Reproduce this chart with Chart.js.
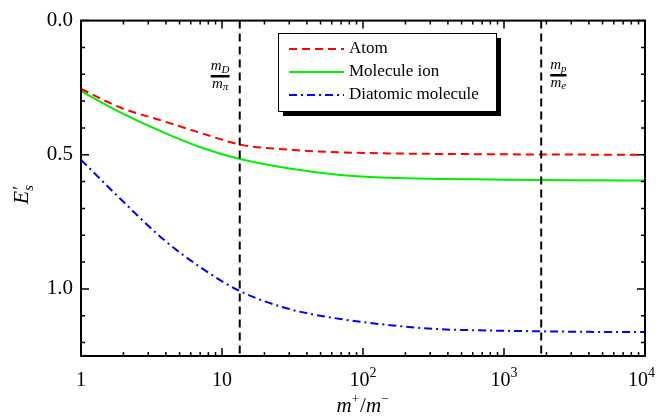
<!DOCTYPE html>
<html>
<head>
<meta charset="utf-8">
<script src="https://cdn.jsdelivr.net/npm/chart.js@4.4.1/dist/chart.umd.min.js"></script>
<style>
  html, body { margin: 0; padding: 0; background: #fff; }
  #wrap { width: 658px; height: 417px; }
</style>
</head>
<body>
<div id="wrap"><canvas id="c"></canvas></div>
<script>
// mass ratio m+/m- (log axis)
var ratios = [1, 1.9, 3.7, 7.1, 13.4, 30, 69, 155, 350, 800, 1800, 4000, 10000];
var atom = [0.255, 0.324, 0.372, 0.419, 0.462, 0.481, 0.491, 0.495, 0.497, 0.498, 0.499, 0.4995, 0.4997];
var molIon = [0.263, 0.342, 0.413, 0.473, 0.516, 0.551, 0.575, 0.586, 0.590, 0.592, 0.594, 0.595, 0.596];
var diatomic = [0.519, 0.664, 0.808, 0.921, 1.008, 1.075, 1.112, 1.135, 1.150, 1.155, 1.158, 1.160, 1.161];
var labels = ['Atom', 'Molecule ion', 'Diatomic molecule'];
var markers = [13.36, 1836]; // m_D/m_pi , m_p/m_e
var xDecades = [1, 10, 100, 1000, 10000];
var yMajor = [0, 0.5, 1.0];

var SERIF = '"Liberation Serif", "DejaVu Serif", serif';

function pts(vals) {
    var out = [];
    for (var i = 0; i < ratios.length; i++) out.push({x: ratios[i], y: vals[i]});
    return out;
}

function frac(ctx, x, num, numSub, den, denSub, yTop) {
    // small italic fraction like m_D / m_pi
    ctx.save();
    ctx.fillStyle = '#000';
    ctx.textBaseline = 'alphabetic';
    ctx.font = 'italic 15px ' + SERIF;
    var w1 = ctx.measureText(num).width;
    ctx.font = 'italic 11px ' + SERIF;
    var s1 = ctx.measureText(numSub).width;
    ctx.font = 'italic 15px ' + SERIF;
    var w2 = ctx.measureText(den).width;
    ctx.font = 'italic 11px ' + SERIF;
    var s2 = ctx.measureText(denSub).width;
    var wTop = w1 + s1, wBot = w2 + s2;
    var w = Math.max(wTop, wBot);
    var bx = x;
    ctx.font = 'italic 15px ' + SERIF;
    ctx.fillText(num, bx + (w - wTop) / 2, yTop + 9);
    ctx.font = 'italic 11px ' + SERIF;
    ctx.fillText(numSub, bx + (w - wTop) / 2 + w1, yTop + 12);
    ctx.fillRect(bx, yTop + 14, w, 2.5);
    ctx.font = 'italic 15px ' + SERIF;
    ctx.fillText(den, bx + (w - wBot) / 2, yTop + 27);
    ctx.font = 'italic 11px ' + SERIF;
    ctx.fillText(denSub, bx + (w - wBot) / 2 + w2, yTop + 29);
    ctx.restore();
}

var frame = {
    id: 'frame',
    afterDatasetsDraw: function (chart) {
        var ctx = chart.ctx, a = chart.chartArea;
        var xs = chart.scales.x, ys = chart.scales.y;
        ctx.save();
        // vertical marker lines
        ctx.strokeStyle = '#000';
        ctx.lineWidth = 2;
        ctx.setLineDash([8, 5]);
        markers.forEach(function (m) {
            var px = xs.getPixelForValue(m);
            ctx.beginPath();
            ctx.moveTo(px, a.top);
            ctx.lineTo(px, a.bottom);
            ctx.stroke();
        });
        ctx.setLineDash([]);

        // frame
        ctx.lineWidth = 2;
        ctx.strokeRect(a.left, a.top, a.right - a.left, a.bottom - a.top);

        // x ticks (inward, bottom and top)
        ctx.lineWidth = 1.5;
        for (var d = 0; d < xDecades.length; d++) {
            for (var k = 1; k <= 9; k++) {
                var v = xDecades[d] * k;
                if (v > 10000) break;
                var px = xs.getPixelForValue(v);
                var len = (k === 1) ? 8 : 4;
                ctx.beginPath();
                ctx.moveTo(px, a.bottom); ctx.lineTo(px, a.bottom - len);
                ctx.moveTo(px, a.top); ctx.lineTo(px, a.top + len);
                ctx.stroke();
            }
        }
        // y ticks (inward, left and right)
        for (var t = 0; t <= 12; t++) {
            var py = ys.getPixelForValue(t / 10);
            var l2 = (t % 5 === 0) ? 8 : 4;
            ctx.beginPath();
            ctx.moveTo(a.left, py); ctx.lineTo(a.left + l2, py);
            ctx.moveTo(a.right, py); ctx.lineTo(a.right - l2, py);
            ctx.stroke();
        }

        // x tick labels
        ctx.fillStyle = '#000';
        ctx.textBaseline = 'alphabetic';
        xDecades.forEach(function (v, i) {
            var px = xs.getPixelForValue(v);
            if (i < 2) {
                ctx.font = '20px ' + SERIF;
                ctx.textAlign = 'center';
                ctx.fillText(String(v), px, a.bottom + 30);
            } else {
                ctx.font = '20px ' + SERIF;
                var w = ctx.measureText('10').width;
                ctx.font = '14px ' + SERIF;
                var ws = ctx.measureText(String(i)).width;
                var x0 = px - (w + ws) / 2 + (i === 4 ? -ws / 2 : 0);
                ctx.textAlign = 'left';
                ctx.font = '20px ' + SERIF;
                ctx.fillText('10', x0, a.bottom + 30);
                ctx.font = '14px ' + SERIF;
                ctx.fillText(String(i), x0 + w, a.bottom + 21);
            }
        });

        // x title m+/m-
        ctx.textAlign = 'left';
        ctx.font = 'italic 21px ' + SERIF;
        var mw = ctx.measureText('m').width;
        ctx.font = '13px ' + SERIF;
        var pw = ctx.measureText('+').width;
        ctx.font = '21px ' + SERIF;
        var sw = ctx.measureText('/').width;
        var total = mw * 2 + pw * 2 + sw + 2;
        var cx = (a.left + a.right) / 2 - total / 2;
        var by = a.bottom + 56;
        ctx.font = 'italic 21px ' + SERIF; ctx.fillText('m', cx, by); cx += mw;
        ctx.font = '13px ' + SERIF; ctx.fillText('+', cx, by - 9); cx += pw + 1;
        ctx.font = '21px ' + SERIF; ctx.fillText('/', cx, by); cx += sw;
        ctx.font = 'italic 21px ' + SERIF; ctx.fillText('m', cx, by); cx += mw;
        ctx.font = '13px ' + SERIF; ctx.fillText('\u2212', cx, by - 9);

        // y title E's
        ctx.save();
        ctx.translate(28, (a.top + a.bottom) / 2 + 4);
        ctx.rotate(-Math.PI / 2);
        ctx.font = 'italic 22px ' + SERIF;
        var ew = ctx.measureText('E').width;
        ctx.textAlign = 'left';
        ctx.fillText('E', -12, 0);
        ctx.font = '18px ' + SERIF;
        ctx.fillText('\u2032', -12 + ew + 1, -2);
        ctx.font = 'italic 15px ' + SERIF;
        ctx.fillText('s', -12 + ew, 5);
        ctx.restore();

        // fraction labels
        frac(ctx, xs.getPixelForValue(markers[0]) - 29, 'm', 'D', 'm', '\u03c0', 61);
        frac(ctx, xs.getPixelForValue(markers[1]) + 9, 'm', 'p', 'm', 'e', 60);

        // legend box with shadow
        var lx = 278, ly = 33, lw = 218, lh = 78;
        ctx.fillStyle = '#000';
        ctx.fillRect(lx + 5, ly + 5, lw, lh);
        ctx.fillStyle = '#fff';
        ctx.fillRect(lx, ly, lw, lh);
        ctx.strokeStyle = '#000';
        ctx.lineWidth = 1;
        ctx.strokeRect(lx + 0.5, ly + 0.5, lw, lh);
        chart.data.datasets.forEach(function (ds, i) {
            var yy = 49 + i * 23;
            ctx.strokeStyle = ds.borderColor;
            ctx.lineWidth = 2;
            ctx.setLineDash(ds.borderDash || []);
            ctx.beginPath();
            ctx.moveTo(289, yy); ctx.lineTo(344, yy);
            ctx.stroke();
            ctx.setLineDash([]);
            ctx.fillStyle = '#000';
            ctx.font = '17px ' + SERIF;
            ctx.textBaseline = 'middle';
            ctx.fillText(ds.label, 349, yy);
        });
        ctx.restore();
    }
};

new Chart(document.getElementById('c'), {
    type: 'line',
    data: {
        datasets: [{
            label: labels[0],
            data: pts(atom),
            borderColor: '#ff0000',
            borderDash: [8, 5],
            borderWidth: 2
        }, {
            label: labels[1],
            data: pts(molIon),
            borderColor: '#00ee00',
            borderWidth: 2
        }, {
            label: labels[2],
            data: pts(diatomic),
            borderColor: '#0000ff',
            borderDash: [8, 4, 2, 4],
            borderWidth: 2
        }]
    },
    options: {
        responsive: true,
        maintainAspectRatio: false,
        animation: false,
        devicePixelRatio: 1,
        elements: {
            point: { radius: 0 },
            line: { cubicInterpolationMode: 'monotone', fill: false }
        },
        layout: { padding: { left: 0, right: 13, top: 8, bottom: 0 } },
        plugins: {
            legend: { display: false },
            tooltip: { enabled: false }
        },
        scales: {
            x: {
                type: 'logarithmic',
                min: 1,
                max: 10000,
                grid: { display: false },
                border: { display: false },
                ticks: { display: false },
                afterFit: function (s) { s.height = 61; }
            },
            y: {
                min: 0,
                max: 1.25,
                reverse: true,
                grid: { display: false, drawTicks: false },
                border: { display: false },
                afterBuildTicks: function (s) {
                    s.ticks = yMajor.map(function (v) { return {value: v}; });
                },
                ticks: {
                    color: '#000',
                    padding: 8,
                    font: { family: SERIF, size: 21 },
                    callback: function (v) { return Number(v).toFixed(1); }
                },
                afterFit: function (s) { s.width = 81; }
            }
        }
    },
    plugins: [frame]
});
</script>
</body>
</html>
